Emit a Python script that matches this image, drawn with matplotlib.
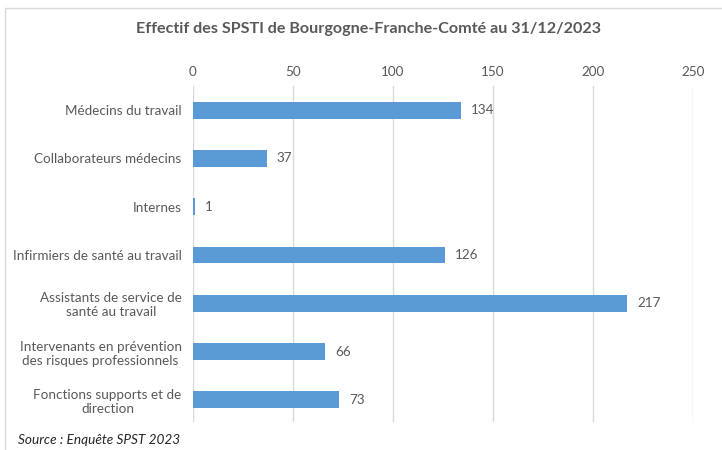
import matplotlib
matplotlib.use('Agg')
import matplotlib.pyplot as plt
from matplotlib.patches import Rectangle

categories = [
    "Médecins du travail",
    "Collaborateurs médecins",
    "Internes",
    "Infirmiers de santé au travail",
    "Assistants de service de\nsanté au travail",
    "Intervenants en prévention\ndes risques professionnels",
    "Fonctions supports et de\ndirection",
]
values = [134, 37, 1, 126, 217, 66, 73]
ticks = [0, 50, 100, 150, 200, 250]

plt.rcParams['font.family'] = ['Lato', 'DejaVu Sans']
text_color = '#595959'

fig = plt.figure(figsize=(7.22, 4.5), dpi=100)
ax = fig.add_axes([0.267, 0.062, 0.693, 0.747])

pos = list(range(len(categories)))
ax.barh(pos, values, height=0.35, color='#5B9BD5')
for p, v in zip(pos, values):
    ax.text(v + 5, p, str(v), va='center', ha='left', fontsize=9.7, color=text_color)

ax.set_xlim(0, 250)
ax.set_ylim(6.46, -0.5)
ax.set_xticks(ticks)
ax.xaxis.tick_top()
ax.tick_params(axis='x', length=0, labelsize=9.7, labelcolor=text_color, pad=6)
ax.tick_params(axis='y', length=0, labelsize=9.7, labelcolor=text_color, pad=8)
ax.set_yticks(pos)
ax.set_yticklabels(categories, ha='right', multialignment='center')
ax.grid(axis='x', color='#d9d9d9', linewidth=1)
ax.set_axisbelow(True)
for s in ax.spines.values():
    s.set_visible(False)

fig.patches.append(Rectangle((0.007, -0.1), 1.1, 1.082, transform=fig.transFigure,
                             fill=False, edgecolor='#d9d9d9', linewidth=1))
fig.text(0.51, 0.935, "Effectif des SPSTI de Bourgogne-Franche-Comté au 31/12/2023",
         ha='center', va='center', fontsize=11.6, color=text_color, fontweight='bold')
fig.text(0.025, 0.022, "Source : Enquête SPST 2023", ha='left', va='center',
         fontsize=9.8, style='italic', color='#262626')

fig.savefig('out.png', dpi=100)
